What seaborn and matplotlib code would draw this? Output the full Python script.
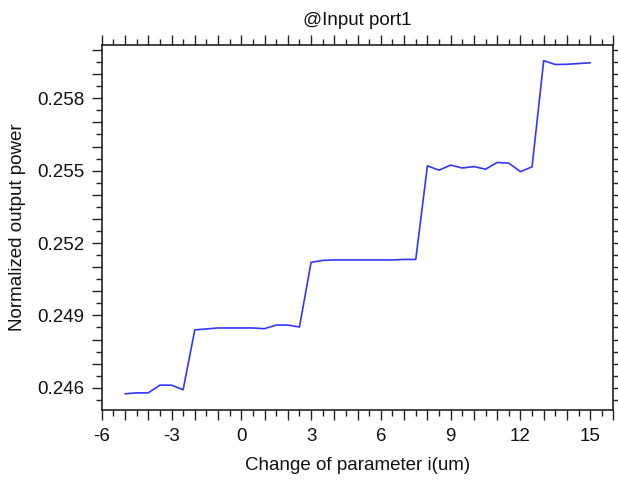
import numpy as np
import pandas as pd
import seaborn as sns
import matplotlib
matplotlib.use("Agg")
import matplotlib.pyplot as plt
from matplotlib.ticker import MultipleLocator, FuncFormatter

# Sweep of parameter i (um) and the normalized power seen at input port 1
param_i = [-5.0, -4.5, -4.0, -3.5, -3.0, -2.5, -2.0, -1.5, -1.0, -0.5,
           0.0, 0.5, 1.0, 1.5, 2.0, 2.5, 3.0, 3.5, 4.0, 4.5,
           5.0, 5.5, 6.0, 6.5, 7.0, 7.5, 8.0, 8.5, 9.0, 9.5,
           10.0, 10.5, 11.0, 11.5, 12.0, 12.5, 13.0, 13.5, 14.0, 14.5, 15.0]
norm_power = [0.24575, 0.24579, 0.24579, 0.24611, 0.24611, 0.24592, 0.24840, 0.24844, 0.24848, 0.24848,
              0.24848, 0.24848, 0.24845, 0.24860, 0.24860, 0.24852, 0.25120, 0.25128, 0.25130, 0.25130,
              0.25130, 0.25130, 0.25130, 0.25130, 0.25132, 0.25132, 0.25520, 0.25502, 0.25523, 0.25511,
              0.25517, 0.25506, 0.25534, 0.25531, 0.25496, 0.25516, 0.25956, 0.25940, 0.25941, 0.25944, 0.25947]

title_text = "@Input port1"
x_label = "Change of parameter i(um)"
y_label = "Normalized output power"

df = pd.DataFrame({"i": param_i, "power": norm_power})

sns.set_style("ticks")
plt.rcParams["font.family"] = ["Liberation Sans", "DejaVu Sans"]

fig = plt.figure(figsize=(6.18, 4.84), dpi=100)
ax = fig.add_axes([0.1646, 0.1519, 0.9927 - 0.1646, 0.9076 - 0.1519])

sns.lineplot(data=df, x="i", y="power", ax=ax, color="#3535ff", linewidth=1.2)

ax.set_xlim(-6, 16)
ax.set_ylim(0.24506, 0.26022)

ax.xaxis.set_major_locator(MultipleLocator(1))
ax.xaxis.set_minor_locator(MultipleLocator(0.5))
ax.xaxis.set_major_formatter(FuncFormatter(
    lambda v, p: f"{v:.0f}" if abs(round(v) % 3) == 0 and abs(v - round(v)) < 1e-6 else ""))

ax.yaxis.set_major_locator(MultipleLocator(0.001))
ax.yaxis.set_minor_locator(MultipleLocator(0.0005))

def ylab(v, p):
    k = round(v * 1000)
    if abs(v * 1000 - k) < 1e-6 and k % 3 == 0:
        return f"{v:.3f}"
    return ""

ax.yaxis.set_major_formatter(FuncFormatter(ylab))

for s in ax.spines.values():
    s.set_visible(True)
    s.set_color("#222222")
    s.set_linewidth(1.2)

ax.tick_params(which="both", direction="out", top=True, right=True,
               color="#222222", width=1.0, labelsize=13.5, labelcolor="#111111")
ax.tick_params(which="major", length=7.5, pad=5)
ax.tick_params(which="minor", length=4)

ax.set_xlabel(x_label, fontsize=13.5, color="#111111", labelpad=8.5)
ax.set_ylabel(y_label, fontsize=13.5, color="#111111", labelpad=8)
ax.set_title(title_text, fontsize=13.5, color="#111111", pad=14.5)

fig.savefig("out.png", dpi=100)
